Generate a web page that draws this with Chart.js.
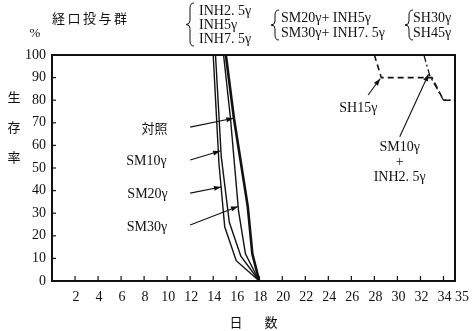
<!DOCTYPE html>
<html><head><meta charset="utf-8">
<script src="https://cdn.jsdelivr.net/npm/chart.js@4/dist/chart.umd.min.js"></script>
<style>html,body{margin:0;padding:0;background:#fff}#wrap{width:472px;height:331px;position:relative}</style>
</head><body><div id="wrap"><canvas id="c" width="472" height="331"></canvas></div>
<script>
// ---- data ----
const xTickValues = [2,4,6,8,10,12,14,16,18,20,22,24,26,28,30,32,34,35];
const yTickValues = [0,10,20,30,40,50,60,70,80,90,100];

const ctrlDays = [15.1, 15.8, 17.0, 17.4, 18];
const ctrlSurv = [100, 72, 33, 12, 0];
const sm10Days = [14.2, 14.7, 15.4, 16.4, 18];
const sm10Surv = [100, 55, 26, 11, 0];
const sm20Days = [14.0, 14.5, 15.0, 16.0, 18];
const sm20Surv = [100, 52, 24, 9, 0];
const sm30Days = [14.9, 15.5, 16.2, 16.8, 18];
const sm30Surv = [100, 72, 31, 12, 0];
const sh15Days = [28.0, 28.6, 33.0, 34.0, 35];
const sh15Surv = [100, 90, 90, 80, 80];
const sm10inhDays = [32.3, 32.8, 34.0, 35];
const sm10inhSurv = [100, 91, 80, 80];

const pts = (xs, ys) => xs.map((x, i) => ({x, y: ys[i]}));

const SERIF = '"Liberation Serif","DejaVu Serif",serif';
const CJK = '"Noto Sans CJK JP","Noto Sans CJK SC",sans-serif';
const INK = '#111';

// annotations: label text, label anchor, arrow tail, arrow tip (in data units)
const notes = [
  {lines:['対照'], cjk:true, at:[8.9,67.7], tail:[12.0,68.1], tip:[15.75,72.0]},
  {lines:['SM10γ'], at:[8.2,53.1], tail:[12.0,53.5], tip:[14.6,57.5]},
  {lines:['SM20γ'], at:[8.3,38.5], tail:[12.0,38.9], tip:[14.68,41.6]},
  {lines:['SM30γ'], at:[8.25,23.9], tail:[12.0,24.8], tip:[16.15,33.0]},
  {lines:['SH15γ'], at:[26.6,76.5], tail:[27.45,82.3], tip:[28.5,89.5]},
  {lines:['SM10γ','+','INH2. 5γ'], at:[30.2,59.3], tail:[30.2,63.8], tip:[32.7,91.5]}
];

function arrow(ctx, x1, y1, x2, y2) {
  ctx.beginPath(); ctx.moveTo(x1, y1); ctx.lineTo(x2, y2); ctx.stroke();
  const a = Math.atan2(y2 - y1, x2 - x1), L = 7, W = 2.5;
  ctx.beginPath();
  ctx.moveTo(x2, y2);
  ctx.lineTo(x2 - L*Math.cos(a) + W*Math.sin(a), y2 - L*Math.sin(a) - W*Math.cos(a));
  ctx.lineTo(x2 - L*Math.cos(a) - W*Math.sin(a), y2 - L*Math.sin(a) + W*Math.cos(a));
  ctx.closePath(); ctx.fill();
}
function brace(ctx, x, y1, y2) {
  const m = (y1 + y2) / 2, w = 4;
  ctx.beginPath();
  ctx.moveTo(x + w, y1);
  ctx.quadraticCurveTo(x, y1, x, y1 + 5);
  ctx.lineTo(x, m - 4);
  ctx.quadraticCurveTo(x, m, x - w, m);
  ctx.quadraticCurveTo(x, m, x, m + 4);
  ctx.lineTo(x, y2 - 5);
  ctx.quadraticCurveTo(x, y2, x + w, y2);
  ctx.stroke();
}

const decor = {
  id: 'decor',
  afterDraw(chart) {
    const {ctx, chartArea: a, scales: {x, y}} = chart;
    ctx.save();
    ctx.strokeStyle = INK; ctx.fillStyle = INK;
    // frame
    ctx.lineWidth = 2;
    ctx.strokeRect(a.left, a.top, a.right - a.left, a.bottom - a.top);
    // inward tick marks
    ctx.lineWidth = 1.2;
    xTickValues.forEach(v => { if (v < 35) { const px = x.getPixelForValue(v);
      ctx.beginPath(); ctx.moveTo(px, a.bottom); ctx.lineTo(px, a.bottom - 5); ctx.stroke(); }});
    yTickValues.forEach(v => { if (v > 0 && v < 100) { const py = y.getPixelForValue(v);
      ctx.beginPath(); ctx.moveTo(a.left, py); ctx.lineTo(a.left + 4, py); ctx.stroke(); }});
    // x tick labels (last one set off to the right as in the print)
    ctx.font = '14px ' + SERIF; ctx.textAlign = 'center'; ctx.textBaseline = 'middle';
    xTickValues.forEach(v => {
      const px = x.getPixelForValue(v) + (v === 35 ? 7 : 1);
      ctx.fillText(String(v), px, a.bottom + 16);
    });
    // annotations
    ctx.lineWidth = 1.1;
    notes.forEach(n => {
      arrow(ctx, x.getPixelForValue(n.tail[0]), y.getPixelForValue(n.tail[1]),
                 x.getPixelForValue(n.tip[0]), y.getPixelForValue(n.tip[1]));
      ctx.font = n.cjk ? '13px ' + CJK : '14px ' + SERIF;
      ctx.textAlign = 'center'; ctx.textBaseline = 'middle';
      const cx = x.getPixelForValue(n.at[0]);
      n.lines.forEach((t, i) => ctx.fillText(t, cx, y.getPixelForValue(n.at[1]) + i * 15));
    });
    // y-axis title (vertical)
    ctx.font = '13px ' + CJK; ctx.textAlign = 'center'; ctx.textBaseline = 'middle';
    ['生','存','率'].forEach((c, i) => ctx.fillText(c, 14, 97 + i * 30));
    // x-axis title
    ctx.fillText('日', 236, 322); ctx.fillText('数', 271, 322);
    // % unit
    ctx.font = '13px ' + SERIF; ctx.fillText('%', 35, 34);
    // header
    ctx.font = '13px ' + CJK; ctx.textAlign = 'left';
    [...'経口投与群'].forEach((c, i) => ctx.fillText(c, 52 + i * 15.5, 18));
    ctx.font = '14px ' + SERIF;
    ['INH2. 5γ','INH5γ','INH7. 5γ'].forEach((t, i) => ctx.fillText(t, 199, 11 + i * 14));
    ['SM20γ+ INH5γ','SM30γ+ INH7. 5γ'].forEach((t, i) => ctx.fillText(t, 281, 18 + i * 15));
    ['SH30γ','SH45γ'].forEach((t, i) => ctx.fillText(t, 413, 18 + i * 15));
    ctx.lineWidth = 1;
    brace(ctx, 190, 3, 46);
    brace(ctx, 275, 10, 40);
    brace(ctx, 409, 10, 40);
    ctx.restore();
  }
};

const lineDs = (label, data, w, dash) => ({
  label, data, borderColor: INK, borderWidth: w, borderDash: dash || [],
  pointRadius: 0, fill: false, tension: 0
});

new Chart(document.getElementById('c'), {
  type: 'line',
  data: { datasets: [
    lineDs('対照', pts(ctrlDays, ctrlSurv), 2.6),
    lineDs('SM10γ', pts(sm10Days, sm10Surv), 1.4),
    lineDs('SM20γ', pts(sm20Days, sm20Surv), 1.4),
    lineDs('SM30γ', pts(sm30Days, sm30Surv), 1.4),
    lineDs('SH15γ', pts(sh15Days, sh15Surv), 1.6, [6, 4]),
    lineDs('SM10γ+INH2.5γ', pts(sm10inhDays, sm10inhSurv), 1.3, [7, 3, 2, 3])
  ]},
  options: {
    responsive: false, animation: false, devicePixelRatio: 1,
    layout: { padding: { left: 0, right: 17, top: 55, bottom: 0 } },
    plugins: { legend: { display: false }, tooltip: { enabled: false } },
    scales: {
      x: {
        type: 'linear', min: 0, max: 35,
        afterBuildTicks: s => { s.ticks = xTickValues.map(v => ({value: v})); },
        afterFit: s => { s.height = 50; },
        grid: { display: false, drawTicks: false }, border: { display: false },
        ticks: { display: false }
      },
      y: {
        min: 0, max: 100,
        afterBuildTicks: s => { s.ticks = yTickValues.map(v => ({value: v})); },
        afterFit: s => { s.width = 52; },
        grid: { display: false, drawTicks: false }, border: { display: false },
        ticks: { color: INK, font: { family: SERIF, size: 14 }, padding: 6 }
      }
    }
  },
  plugins: [decor]
});
</script>
</body></html>
